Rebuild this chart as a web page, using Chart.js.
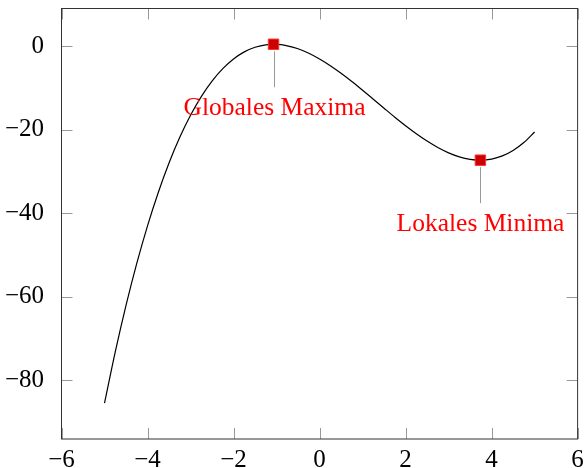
<!DOCTYPE html>
<html>
<head>
<meta charset="utf-8">
<script src="https://cdn.jsdelivr.net/npm/chart.js@4/dist/chart.umd.min.js"></script>
<style>
  html, body { margin: 0; padding: 0; background: #fff; }
  #wrap { width: 586px; height: 468px; }
</style>
</head>
<body>
<div id="wrap"><canvas id="plot"></canvas></div>
<script>
// curve samples
const xs = [-5, -4.75, -4.5, -4.25, -4, -3.75, -3.5, -3.25, -3, -2.75, -2.5, -2.25, -2, -1.75, -1.5, -1.25, -1, -0.75, -0.5, -0.25,
  0, 0.25, 0.5, 0.75, 1, 1.25, 1.5, 1.75, 2, 2.25, 2.5, 2.75, 3, 3.25, 3.5, 3.75, 4, 4.25, 4.5, 4.75, 5];
const ys = [-85.5, -73.21, -62.06, -52.01, -43, -35.0, -27.94, -21.79, -16.5, -12.02, -8.31, -5.32, -3, -1.3, -0.19, 0.4, 0.5, 0.16, -0.56, -1.63,
  -3, -4.62, -6.44, -8.41, -10.5, -12.65, -14.81, -16.95, -19, -20.93, -22.69, -24.23, -25.5, -26.46, -27.06, -27.26, -27, -26.24, -24.94, -23.04, -20.5];

// marked extrema
const markX = [-1.07, 3.74];
const markY = [0.52, -27.26];
const markText = ["Globales Maxima", "Lokales Minima"];

const xTicks = [-6, -4, -2, 0, 2, 4, 6];
const yTicks = [-80, -60, -40, -20, 0];

const FONT = "'Liberation Serif', 'DejaVu Serif', serif";
const minus = v => String(v).replace("-", "\u2212");

// frame plus inward ticks on all four sides
const framePlugin = {
  id: "frame",
  afterDraw(chart) {
    const { ctx, chartArea: a, scales } = chart;
    const len = 11;
    ctx.save();
    ctx.strokeStyle = "#999";
    ctx.lineWidth = 1;
    ctx.beginPath();
    xTicks.forEach(v => {
      const px = Math.round(scales.x.getPixelForValue(v)) + 0.5;
      ctx.moveTo(px, a.bottom); ctx.lineTo(px, a.bottom - len);
      ctx.moveTo(px, a.top); ctx.lineTo(px, a.top + len);
    });
    yTicks.forEach(v => {
      const py = Math.round(scales.y.getPixelForValue(v)) + 0.5;
      ctx.moveTo(a.left, py); ctx.lineTo(a.left + len, py);
      ctx.moveTo(a.right, py); ctx.lineTo(a.right - len, py);
    });
    ctx.stroke();
    ctx.strokeStyle = "#333";
    ctx.strokeRect(a.left, a.top, a.right - a.left, a.bottom - a.top);
    ctx.restore();
  }
};

// pins and labels under the marked points
const pinPlugin = {
  id: "pins",
  afterDatasetsDraw(chart) {
    const { ctx, scales } = chart;
    ctx.save();
    markX.forEach((mx, i) => {
      const px = Math.round(scales.x.getPixelForValue(mx)) + 0.5;
      const py = scales.y.getPixelForValue(markY[i]);
      ctx.strokeStyle = "#999";
      ctx.lineWidth = 1;
      ctx.beginPath();
      ctx.moveTo(px, py + 7);
      ctx.lineTo(px, py + 43);
      ctx.stroke();
      ctx.fillStyle = "#ff0000";
      ctx.font = "25.5px " + FONT;
      ctx.textAlign = "center";
      ctx.textBaseline = "alphabetic";
      ctx.fillText(markText[i], px, py + 71);
    });
    ctx.restore();
  }
};

new Chart(document.getElementById("plot"), {
  type: "line",
  data: {
    datasets: [
      {
        data: xs.map((x, i) => ({ x, y: ys[i] })),
        borderColor: "#000",
        borderWidth: 1.2,
        pointRadius: 0,
        cubicInterpolationMode: "monotone",
        order: 2
      },
      {
        data: markX.map((x, i) => ({ x, y: markY[i] })),
        showLine: false,
        pointStyle: "rect",
        pointRadius: 7.4,
        pointBackgroundColor: "#cc0000",
        pointBorderColor: "#ff3333",
        pointBorderWidth: 1,
        order: 1
      }
    ]
  },
  plugins: [framePlugin, pinPlugin],
  options: {
    responsive: true,
    maintainAspectRatio: false,
    animation: false,
    events: [],
    layout: { padding: { top: 8.5, right: 7, left: 0, bottom: 0 } },
    plugins: { legend: { display: false }, tooltip: { enabled: false } },
    scales: {
      x: {
        type: "linear",
        min: -6,
        max: 6,
        afterBuildTicks: s => { s.ticks = xTicks.map(value => ({ value })); },
        afterFit: s => { s.height = 29; s.paddingLeft = 0; s.paddingRight = 0; },
        grid: { display: false },
        border: { display: false },
        ticks: {
          color: "#000",
          padding: -2,
          maxRotation: 0,
          font: { family: FONT, size: 25 },
          callback: v => minus(v)
        }
      },
      y: {
        type: "linear",
        min: -94.1,
        max: 9.1,
        afterBuildTicks: s => { s.ticks = yTicks.map(value => ({ value })); },
        afterFit: s => { s.width = 61.5; s.paddingTop = 0; s.paddingBottom = 0; },
        grid: { display: false },
        border: { display: false },
        ticks: {
          color: "#000",
          padding: 9.5,
          font: { family: FONT, size: 25 },
          callback: v => minus(v)
        }
      }
    }
  }
});
</script>
</body>
</html>
